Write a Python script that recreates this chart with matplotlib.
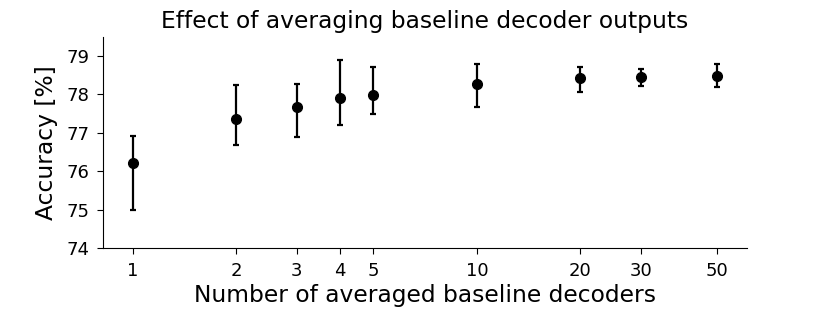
import matplotlib
matplotlib.use("Agg")
import matplotlib.pyplot as plt
import numpy as np

n_decoders = [1, 2, 3, 4, 5, 10, 20, 30, 50]
acc_mean = [76.21, 77.36, 77.66, 77.90, 77.99, 78.27, 78.42, 78.45, 78.48]
acc_low = [75.00, 76.69, 76.90, 77.21, 77.48, 77.67, 78.06, 78.23, 78.19]
acc_high = [76.92, 78.25, 78.27, 78.90, 78.72, 78.79, 78.70, 78.65, 78.78]

mean = np.array(acc_mean)
yerr = [mean - np.array(acc_low), np.array(acc_high) - mean]

fig = plt.figure(figsize=(8.3, 3.11), dpi=100)
ax = fig.add_axes([0.1245, 0.2016, 0.7751, 0.6804])

ax.errorbar(n_decoders, acc_mean, yerr=yerr, fmt="o", color="black",
            markersize=7, elinewidth=1.6, capsize=2.5, capthick=1.6)

ax.set_xscale("log")
ax.set_xticks(n_decoders)
ax.set_xticklabels([str(n) for n in n_decoders])
ax.minorticks_off()
ax.set_ylim(74, 79.5)
ax.set_yticks([74, 75, 76, 77, 78, 79])

ax.spines["top"].set_visible(False)
ax.spines["right"].set_visible(False)
ax.tick_params(labelsize=13, length=4, pad=6)

ax.set_title("Effect of averaging baseline decoder outputs", fontsize=16.8)
ax.set_xlabel("Number of averaged baseline decoders", fontsize=16.8, labelpad=3)
ax.set_ylabel("Accuracy [%]", fontsize=16.8, labelpad=6)

fig.savefig("out.png", dpi=100)
